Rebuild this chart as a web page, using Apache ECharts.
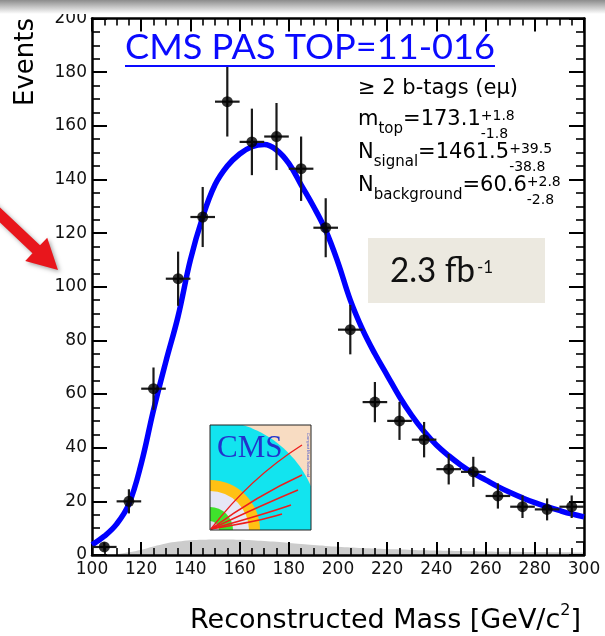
<!DOCTYPE html>
<html>
<head>
<meta charset="utf-8">
<script src="https://cdn.jsdelivr.net/npm/echarts@6/dist/echarts.min.js"></script>
<style>
  html, body { margin: 0; padding: 0; background: #ffffff; }
  #chart { width: 605px; height: 636px; }
</style>
</head>
<body>
<div id="chart"></div>
<script>
// Reconstructed top-quark mass, >= 2 b-tags, e-mu channel (2.3 fb^-1)

// Measured events per 10 GeV/c^2 bin (bin centres)
const massBins = [105, 115, 125, 135, 145, 155, 165, 175, 185, 195,
                  205, 215, 225, 235, 245, 255, 265, 275, 285, 295];
const events   = [3, 20, 62, 103, 126, 169, 154, 156, 144, 122,
                  84, 57, 50, 43, 32, 31, 22, 18, 17, 18];
const eventErr = [1.7, 4.5, 7.9, 10.1, 11.2, 13.0, 12.4, 12.5, 12.0, 11.0,
                  9.2, 7.5, 7.1, 6.6, 5.7, 5.6, 4.7, 4.2, 4.1, 4.2];
const binHalfWidth = 5;

// Fitted signal + background template
const fitMass   = [100, 105, 110, 115, 120, 125, 130, 135, 140, 145,
                   150, 155, 160, 165, 170, 175, 180, 185, 190, 195,
                   200, 205, 210, 215, 220, 225, 230, 235, 240, 245,
                   250, 255, 260, 265, 270, 275, 280, 285, 290, 295, 300];
const fitEvents = [3.8, 7, 11.5, 19, 34, 54, 72, 89, 110, 126,
                   138, 145, 149.5, 152.2, 153, 151, 146, 138, 130, 121,
                   109, 95, 84, 75, 67, 59, 52, 46, 41, 37,
                   33.5, 30.5, 28, 25.5, 23.3, 21.3, 19.5, 18, 16.6, 15.3, 14.2];

// Background-only component
const bkgMass   = [100, 105, 110, 115, 120, 125, 130, 135, 140, 145,
                   150, 155, 160, 165, 170, 175, 180, 185, 190, 195,
                   200, 210, 220, 230, 240, 250, 260, 270, 280, 290, 300];
const bkgEvents = [0, 0, 0.3, 1, 2, 3.2, 4.3, 5, 5.5, 5.7,
                   5.8, 5.8, 5.7, 5.5, 5.2, 4.9, 4.5, 4.1, 3.7, 3.4,
                   3.1, 2.6, 2.2, 1.9, 1.7, 1.5, 1.3, 1.2, 1.1, 1.0, 0.9];

// Axis ranges and tick steps
const xRange = { min: 100, max: 300, step: 20, minorDiv: 4 };
const yRange = { min: 0, max: 200, step: 20, minorDiv: 4 };

const AXIS_FONT = 'DejaVu Sans';
const SLIDE_FONT = 'Lato';

const measureCtx = document.createElement('canvas').getContext('2d');
function textWidth(str, size, family) {
  measureCtx.font = size + 'px "' + family + '"';
  return measureCtx.measureText(str).width;
}

// Text placed on an alphabetic baseline (approximate via middle anchor)
function baseText(str, x, baseline, size, family, fill, extra) {
  const el = {
    type: 'text',
    x: x,
    y: baseline - 0.34 * size,
    style: {
      text: str,
      fontSize: size,
      fontFamily: family,
      fill: fill,
      align: 'left',
      verticalAlign: 'middle'
    },
    z: 50
  };
  return Object.assign(el, extra || {});
}

// One line of the fit summary: main symbol, subscript label, value, stacked errors
function fitLine(x, baseline, symbol, subLabel, value, errUp, errDown) {
  const MAIN = 21, SUB = 15, ERR = 14;
  const out = [];
  let cx = x;
  out.push(baseText(symbol, cx, baseline, MAIN, AXIS_FONT, '#000'));
  cx += textWidth(symbol, MAIN, AXIS_FONT);
  if (subLabel) {
    out.push(baseText(subLabel, cx, baseline + 7, SUB, AXIS_FONT, '#000'));
    cx += textWidth(subLabel, SUB, AXIS_FONT);
  }
  out.push(baseText(value, cx, baseline, MAIN, AXIS_FONT, '#000'));
  cx += textWidth(value, MAIN, AXIS_FONT);
  if (errUp) {
    out.push(baseText(errUp, cx, baseline - 6, ERR, AXIS_FONT, '#000'));
    out.push(baseText(errDown, cx, baseline + 12, ERR, AXIS_FONT, '#000'));
  }
  return out;
}

// Title (slide heading, underlined hyperlink style)
const titleText = 'CMS PAS TOP=11-016';
const titleSize = 35;
const titleLeft = 125, titleRight = 495;
const titleScale = (titleRight - titleLeft) / textWidth(titleText, titleSize, SLIDE_FONT);

// Luminosity box text
const lumiText = '2.3 fb';
const lumiSize = 34;
const lumiLeft = 390, lumiRight = 475;
const lumiScale = (lumiRight - lumiLeft) / textWidth(lumiText, lumiSize, SLIDE_FONT);

// CMS detector-slice logo, drawn from simple shapes
function cmsLogo(x0, y0, w, h) {
  const cx = x0, cy = y0 + h;
  const ring = (r, color) => ({
    type: 'sector',
    shape: { cx: cx, cy: cy, r: r, r0: 0, startAngle: -Math.PI / 2, endAngle: 0, clockwise: true },
    style: { fill: color },
    z: 41
  });
  // outer calorimeter band, cut by the logo frame
  const R = 110;
  const a1 = Math.atan2(-h, Math.sqrt(R * R - h * h));
  const a2 = Math.atan2(-Math.sqrt(R * R - w * w), w);
  const outer = [[cx, cy], [cx, y0]];
  for (let k = 0; k <= 24; k++) {
    const a = a1 + (a2 - a1) * k / 24;
    outer.push([cx + R * Math.cos(a), cy + R * Math.sin(a)]);
  }
  outer.push([x0 + w, cy]);
  const track = (ex, ey, cpx, cpy) => ({
    type: 'bezierCurve',
    shape: { x1: cx + 1, y1: cy - 1, x2: ex, y2: ey, cpx1: cpx, cpy1: cpy },
    style: { stroke: '#ee1c1c', lineWidth: 1.4, fill: null },
    z: 44
  });
  return [
    { type: 'rect', shape: { x: x0, y: y0, width: w, height: h }, style: { fill: '#f8dcc2' }, z: 39 },
    { type: 'polygon', shape: { points: outer }, style: { fill: '#12e4ef' }, z: 40 },
    ring(50, '#ffc114'),
    ring(39, '#e6e6f5'),
    ring(23, '#3fe22c'),
    ring(9, '#dcdcee'),
    {
      type: 'text', x: x0 + 7, y: y0 + 24,
      style: { text: 'CMS', fontFamily: 'Liberation Serif', fontSize: 31, fill: '#2233cc', align: 'left', verticalAlign: 'middle' },
      z: 45
    },
    track(x0 + 92, y0 + 20, x0 + 40, y0 + 53),
    track(x0 + 92, y0 + 50, x0 + 48, y0 + 70),
    track(x0 + 88, y0 + 65, x0 + 52, y0 + 80),
    track(x0 + 81, y0 + 80, x0 + 52, y0 + 90),
    track(x0 + 72, y0 + 89, x0 + 50, y0 + 96),
    {
      type: 'text', x: x0 + w - 3, y: y0 + 30, rotation: -Math.PI / 2,
      style: { text: 'Compact Muon Solenoid', fontFamily: 'Liberation Sans', fontSize: 4, fill: '#4455cc', align: 'center', verticalAlign: 'middle' },
      z: 45
    },
    { type: 'rect', shape: { x: x0, y: y0, width: w, height: h }, style: { fill: null, stroke: '#222', lineWidth: 1 }, z: 46 }
  ];
}

// Slanted red pointer arrow on the left edge
function pointerArrow(tipX, tipY, angle, len, headLen, halfShaft, halfHead) {
  const dx = Math.cos(angle), dy = Math.sin(angle);
  const nx = -dy, ny = dx;
  const bx = tipX - dx * headLen, by = tipY - dy * headLen;
  const tx = tipX - dx * len, ty = tipY - dy * len;
  return {
    type: 'polygon',
    shape: {
      points: [
        [tx + nx * halfShaft, ty + ny * halfShaft],
        [bx + nx * halfShaft, by + ny * halfShaft],
        [bx + nx * halfHead, by + ny * halfHead],
        [tipX, tipY],
        [bx - nx * halfHead, by - ny * halfHead],
        [bx - nx * halfShaft, by - ny * halfShaft],
        [tx - nx * halfShaft, ty - ny * halfShaft]
      ]
    },
    style: {
      fill: '#e8161c',
      shadowBlur: 4, shadowOffsetX: 2, shadowOffsetY: 2, shadowColor: 'rgba(0,0,0,0.35)'
    },
    z: 60
  };
}

const graphics = [
  // slide header shading
  {
    type: 'rect', shape: { x: 0, y: 0, width: 605, height: 14 },
    style: { fill: new echarts.graphic.LinearGradient(0, 0, 0, 1, [
      { offset: 0, color: '#8c8c8c' }, { offset: 1, color: '#ffffff' }
    ]) },
    z: 30
  },
  // title
  {
    type: 'text', x: titleLeft, y: 60 - 0.36 * titleSize, scaleX: titleScale,
    style: { text: titleText, fontFamily: SLIDE_FONT, fontSize: titleSize, fill: '#0a0aff', align: 'left', verticalAlign: 'middle' },
    z: 50
  },
  { type: 'rect', shape: { x: titleLeft, y: 65, width: titleRight - titleLeft, height: 2 }, style: { fill: '#0a0aff' }, z: 50 },
  // luminosity box
  { type: 'rect', shape: { x: 368, y: 238, width: 177, height: 65 }, style: { fill: '#ece9e0' }, z: 35 },
  {
    type: 'text', x: lumiLeft, y: 283 - 0.36 * lumiSize, scaleX: lumiScale,
    style: { text: lumiText, fontFamily: SLIDE_FONT, fontSize: lumiSize, fill: '#111', align: 'left', verticalAlign: 'middle' },
    z: 50
  },
  baseText('-1', 477, 273, 17, SLIDE_FONT, '#111'),
  // fit summary
  baseText('\u2265 2 b-tags (e\u03bc)', 358, 96, 21, AXIS_FONT, '#000'),
  ...fitLine(358, 127, 'm', 'top', '=173.1', '+1.8', '-1.8'),
  ...fitLine(358, 160, 'N', 'signal', '=1461.5', '+39.5', '-38.8'),
  ...fitLine(358, 193, 'N', 'background', '=60.6', '+2.8', '-2.8'),
  // axis titles
  {
    type: 'text', x: 26, y: 18, rotation: Math.PI / 2,
    style: { text: 'Events', fontFamily: AXIS_FONT, fontSize: 26, fill: '#000', align: 'right', verticalAlign: 'middle' },
    z: 50
  },
  {
    type: 'text', x: 581, y: 603,
    style: {
      text: '{a|Reconstructed Mass [GeV/c}{s|2}{a|]}',
      align: 'right', verticalAlign: 'top',
      rich: {
        a: { fontFamily: AXIS_FONT, fontSize: 27, fill: '#000', lineHeight: 31, verticalAlign: 'bottom' },
        s: { fontFamily: AXIS_FONT, fontSize: 16, fill: '#000', lineHeight: 31, verticalAlign: 'top' }
      }
    },
    z: 50
  },
  ...cmsLogo(210, 425, 101, 105),
  pointerArrow(58, 270, Math.atan2(55, 58), 95, 30, 5.5, 16)
];

const tickLine = { color: '#000', width: 2 };
function xAxisDef(pos, showLabels) {
  return {
    type: 'value', position: pos, min: xRange.min, max: xRange.max, interval: xRange.step,
    z: 2,
    axisLine: { show: true, onZero: false, lineStyle: { color: '#000', width: 2.5 } },
    axisTick: { show: true, inside: true, length: 13, lineStyle: tickLine },
    minorTick: { show: true, splitNumber: xRange.minorDiv, length: 7, lineStyle: { color: '#000', width: 1.6 } },
    splitLine: { show: false },
    axisLabel: {
      show: showLabels, margin: 6, fontFamily: AXIS_FONT, fontSize: 17, color: '#111',
      showMinLabel: true, showMaxLabel: true
    }
  };
}
function yAxisDef(pos, showLabels) {
  return {
    type: 'value', position: pos, min: yRange.min, max: yRange.max, interval: yRange.step,
    z: 2,
    axisLine: { show: true, onZero: false, lineStyle: { color: '#000', width: 2.5 } },
    axisTick: { show: true, inside: true, length: 15, lineStyle: tickLine },
    minorTick: { show: true, splitNumber: yRange.minorDiv, length: 8, lineStyle: { color: '#000', width: 1.6 } },
    splitLine: { show: false },
    axisLabel: {
      show: showLabels, margin: 5, fontFamily: AXIS_FONT, fontSize: 17, color: '#111',
      showMinLabel: true, showMaxLabel: true
    }
  };
}

const chart = echarts.init(document.getElementById('chart'), null, { renderer: 'canvas' });
chart.setOption({
  animation: false,
  backgroundColor: '#ffffff',
  grid: { left: 92, right: 21, top: 18.5, bottom: 81 },
  xAxis: [xAxisDef('bottom', true), xAxisDef('top', false)],
  yAxis: [yAxisDef('left', true), yAxisDef('right', false)],
  series: [
    {
      name: 'background', type: 'line', z: 1,
      data: bkgMass.map((m, i) => [m, bkgEvents[i]]),
      smooth: 0.4, showSymbol: false, silent: true,
      lineStyle: { width: 0, opacity: 0 },
      areaStyle: { color: '#cccccc', opacity: 1 }
    },
    {
      name: 'fit', type: 'line', z: 4,
      data: fitMass.map((m, i) => [m, fitEvents[i]]),
      smooth: 0.4, showSymbol: false, silent: true,
      lineStyle: { color: '#0000ff', width: 5.5 }
    },
    {
      name: 'errors', type: 'custom', z: 5, silent: true,
      data: massBins.map((m, i) => [m, events[i], eventErr[i], binHalfWidth]),
      renderItem: function (params, api) {
        const x = api.value(0), y = api.value(1), e = api.value(2), w = api.value(3);
        const lo = api.coord([x, y - e]), hi = api.coord([x, y + e]);
        const l = api.coord([x - w, y]), r = api.coord([x + w, y]);
        const st = { stroke: '#1a1a1a', lineWidth: 2.2 };
        return {
          type: 'group',
          children: [
            { type: 'line', shape: { x1: lo[0], y1: lo[1], x2: hi[0], y2: hi[1] }, style: st },
            { type: 'line', shape: { x1: l[0], y1: l[1], x2: r[0], y2: r[1] }, style: st }
          ]
        };
      }
    },
    {
      name: 'data', type: 'scatter', z: 6, silent: true,
      data: massBins.map((m, i) => [m, events[i]]),
      symbol: 'circle', symbolSize: 11,
      itemStyle: { color: '#000' }
    }
  ],
  graphic: graphics
});
</script>
</body>
</html>
